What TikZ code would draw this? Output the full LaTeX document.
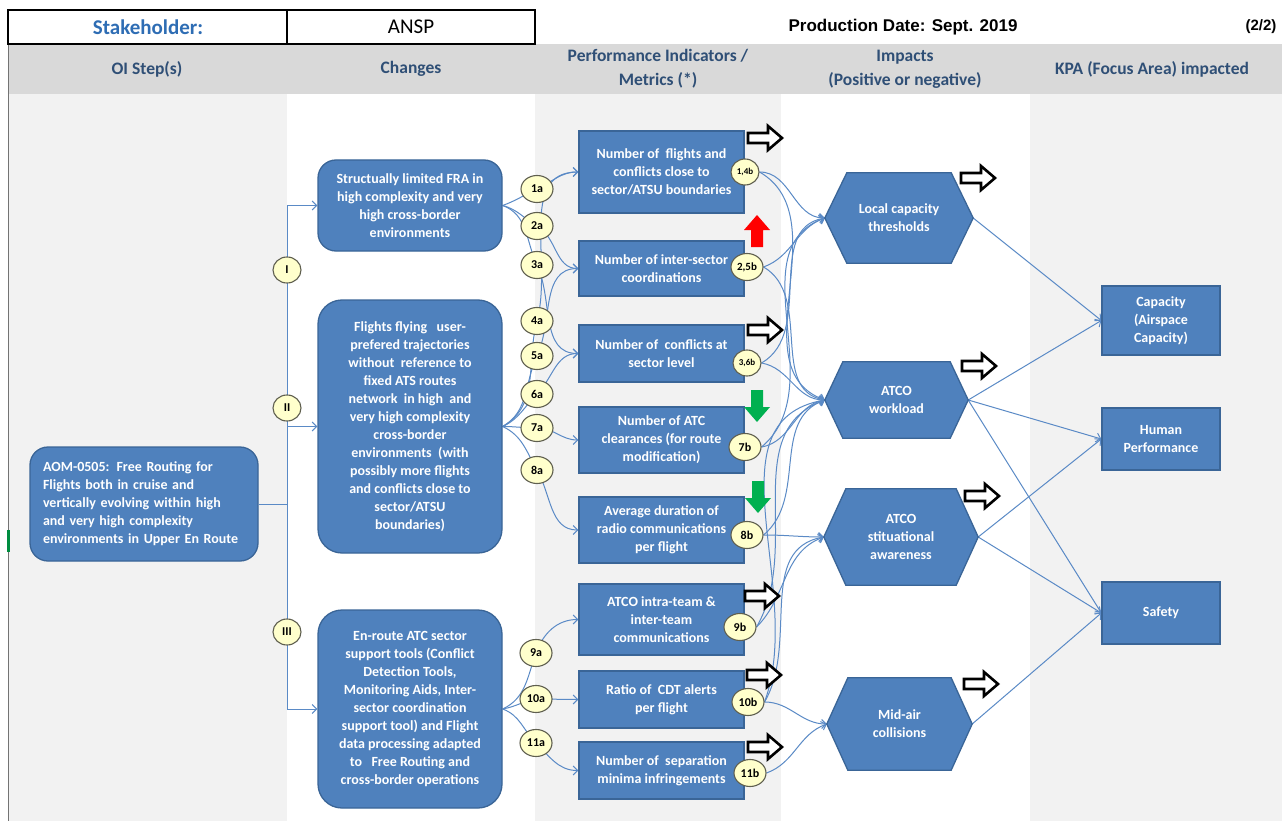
\documentclass[tikz,border=0pt]{standalone}
\usepackage{fontspec}
\setmainfont{Carlito}
\newfontfamily\arialfont{Liberation Sans}
\usetikzlibrary{shapes.geometric,arrows.meta}
\pgfdeclarelayer{bg}\pgfdeclarelayer{lines}\pgfdeclarelayer{hexl}
\pgfsetlayers{bg,lines,hexl,main}
\definecolor{boxblue}{HTML}{4F81BD}
\definecolor{boxedge}{HTML}{3A6597}
\definecolor{linkblue}{HTML}{5A8AC6}
\definecolor{badgefill}{HTML}{FFFFCC}
\definecolor{badgeedge}{HTML}{5F5F4F}
\definecolor{bandgray}{HTML}{D9D9D9}
\definecolor{colgray}{HTML}{F2F2F2}
\definecolor{headtext}{HTML}{2F4F76}
\definecolor{stakeblue}{HTML}{2E6DB4}
\definecolor{arrred}{HTML}{FF0000}
\definecolor{arrgreen}{HTML}{00B050}
\newcommand\drawhexagon[2]{%
  \draw[hexfill] (#1.west) -- ([xshift=#2pt]#1.north west) -- ([xshift=-#2pt]#1.north east) -- (#1.east) -- ([xshift=-#2pt]#1.south east) -- ([xshift=#2pt]#1.south west) -- cycle;}
\tikzset{
  boxtext/.style={font=\bfseries\fontsize{14}{18}\selectfont, text=white, align=center},
  chgbox/.style={boxtext, draw=boxedge, line width=1.3pt, fill=boxblue, rounded corners=18pt, minimum width=184pt, inner sep=0pt},
  metbox/.style={boxtext, draw=boxedge, line width=1.3pt, fill=boxblue, minimum width=165pt, inner sep=0pt},
  kpabox/.style={boxtext, draw=boxedge, line width=1.3pt, fill=boxblue, minimum width=118pt, inner sep=0pt},
  hexnode/.style={boxtext, inner sep=0pt},
  hexfill/.style={draw=boxedge, line width=1.3pt, fill=boxblue},
  badge/.style={ellipse, draw=badgeedge, line width=1.1pt, fill=badgefill, minimum width=32pt, minimum height=27pt, inner sep=0pt, font=\bfseries\fontsize{12}{12}\selectfont},
  link/.style={draw=linkblue, line width=1pt},
  linkarr/.style={link, -{Straight Barb[length=4.5pt,width=9pt]}},
  headlbl/.style={font=\bfseries\fontsize{17.5}{24}\selectfont, text=headtext, align=center},
  toplbl/.style={font=\arialfont\bfseries\fontsize{17}{17}\selectfont},
  hollowarr/.pic={\draw[line width=2.6pt, fill=white, line join=miter] (-17,-5) -- (3,-5) -- (3,-12) -- (17,0) -- (3,12) -- (3,5) -- (-17,5) -- cycle;},
  redup/.pic={\fill[arrred] (-6,-16) -- (6,-16) -- (6,1) -- (13,1) -- (0,16) -- (-13,1) -- (-6,1) -- cycle;},
  greendown/.pic={\fill[arrgreen] (-6,16) -- (6,16) -- (6,-1) -- (13,-1) -- (0,-16) -- (-13,-1) -- (-6,-1) -- cycle;}
}
\begin{document}
\begin{tikzpicture}[x=1pt,y=1pt]
\useasboundingbox (0,0) rectangle (1282,-821);
\begin{pgfonlayer}{bg}
\fill[white] (0,0) rectangle (1282,-821);
\fill[colgray] (8,-94) rectangle (287,-821);
\fill[colgray] (535,-94) rectangle (781,-821);
\fill[colgray] (1030,-94) rectangle (1282,-821);
\fill[bandgray] (8,-44) rectangle (1282,-94);
\draw[black!55, line width=0.8pt] (8,-44) -- (8,-821);
\fill[arrgreen!80!black] (7,-530) rectangle (9.5,-552);
\draw[black, line width=1.4pt] (8,-10) rectangle (535,-44);
\draw[black, line width=1.4pt] (287,-10) -- (287,-44);
\end{pgfonlayer}

% header
\node[font=\bfseries\fontsize{21}{21}\selectfont, text=stakeblue] (stk) at (148,-27) {Stakeholder:};
\node[font=\fontsize{21}{21}\selectfont] (ansp) at (411,-27) {ANSP};
\node[toplbl] (pdate) at (903,-27) {Production Date: Sept. 2019};
\node[toplbl, font=\arialfont\bfseries\fontsize{15}{15}\selectfont] (page) at (1261,-27) {(2/2)};
\node[headlbl] (hoi) at (147,-69) {OI Step(s)};
\node[headlbl] (hch) at (411,-69) {Changes};
\node[headlbl] (hpi) at (658,-69) {Performance Indicators /\\Metrics (*)};
\node[headlbl] (him) at (905,-69) {Impacts\\(Positive or negative)};
\node[headlbl] (hkpa) at (1152,-69) {KPA (Focus Area) impacted};

% OI step
\node[chgbox, align=left, text width=202pt, inner xsep=13pt, minimum width=228pt, minimum height=114pt] (aom) at (144,-504)
  {AOM-0505: Free Routing for\\Flights both in cruise and\\vertically evolving within high\\and very high complexity\\environments in Upper En Route};
\coordinate (jn) at (287,-504);

% changes
\node[chgbox, minimum height=91pt] (s1) at (410,-205.5) {Structually limited FRA in\\high complexity and very\\high cross-border\\environments};
\node[chgbox, minimum height=253pt, rounded corners=24pt] (s2) at (410,-426.5) {Flights flying~~ user-\\prefered trajectories\\without~ reference to\\fixed ATS routes\\network~ in high~ and\\very high complexity\\cross-border\\environments~ (with\\possibly more flights\\and conflicts close to\\sector/ATSU\\boundaries)};
\node[chgbox, minimum height=198pt, rounded corners=24pt] (s3) at (410,-709) {En-route ATC sector\\support tools (Conflict\\Detection Tools,\\Monitoring Aids, Inter-\\sector coordination\\support tool) and Flight\\data processing adapted\\to~~ Free Routing and\\cross-border operations};

% metrics
\node[metbox, minimum height=82pt] (m1) at (661.5,-172) {Number of~ flights and\\conflicts close to\\sector/ATSU boundaries};
\node[metbox, minimum height=55pt] (m2) at (661.5,-268.5) {Number of inter-sector\\coordinations};
\node[metbox, minimum height=57pt] (m3) at (661.5,-353.5) {Number of~ conflicts at\\sector level};
\node[metbox, minimum height=66pt] (m4) at (661.5,-440) {Number of ATC\\clearances (for route\\modification)};
\node[metbox, minimum height=66pt] (m5) at (661.5,-530) {Average duration of\\radio communications\\per flight};
\node[metbox, minimum height=71pt] (m6) at (661.5,-619.5) {ATCO intra-team \&\\inter-team\\communications};
\node[metbox, minimum height=57pt] (m7) at (661.5,-699.5) {Ratio of~ CDT alerts\\per flight};
\node[metbox, minimum height=57pt] (m8) at (661.5,-770.5) {Number of~ separation\\minima infringements};

% impacts
\node[hexnode, minimum width=148pt, minimum height=90pt] (h1) at (899,-218) {Local capacity\\thresholds};
\node[hexnode, minimum width=143pt, minimum height=76pt] (h2) at (896.5,-400) {ATCO\\workload};
\node[hexnode, minimum width=154pt, minimum height=96pt] (h3) at (901,-537) {ATCO\\stituational\\awareness};
\node[hexnode, minimum width=145pt, minimum height=92pt] (h4) at (899.5,-724) {Mid-air\\collisions};
\begin{pgfonlayer}{hexl}
\drawhexagon{h1}{22}
\drawhexagon{h2}{18}
\drawhexagon{h3}{22}
\drawhexagon{h4}{21}
\end{pgfonlayer}

% KPA
\node[kpabox, minimum height=69pt] (k1) at (1161,-320.5) {Capacity\\(Airspace\\Capacity)};
\node[kpabox, minimum height=62pt] (k2) at (1161,-439) {Human\\Performance};
\node[kpabox, minimum height=62pt] (k3) at (1161,-613) {Safety};

% badges
\node[badge, minimum width=28pt, minimum height=26pt] (r1) at (287,-270) {I};
\node[badge, minimum width=28pt, minimum height=26pt] (r2) at (287,-408) {II};
\node[badge, minimum width=28pt, minimum height=26pt] (r3) at (287,-632) {III};
\node[badge] (a1) at (537,-189) {1a};
\node[badge] (a2) at (537,-226) {2a};
\node[badge] (a3) at (537,-265) {3a};
\node[badge] (a4) at (537,-321) {4a};
\node[badge] (a5) at (537,-356) {5a};
\node[badge] (a6) at (537,-394) {6a};
\node[badge] (a7) at (537,-428) {7a};
\node[badge] (a8) at (537,-470) {8a};
\node[badge] (a9) at (536,-653) {9a};
\node[badge] (a10) at (536,-699) {10a};
\node[badge] (a11) at (536,-743) {11a};
\node[badge, minimum width=28pt, minimum height=26pt, font=\bfseries\fontsize{9}{9}\selectfont] (b14) at (745,-172) {1,4b};
\node[badge, font=\bfseries\fontsize{11}{11}\selectfont] (b25) at (747,-267) {2,5b};
\node[badge, minimum width=28pt, minimum height=26pt, font=\bfseries\fontsize{9}{9}\selectfont] (b36) at (747,-363) {3,6b};
\node[badge] (b7) at (745,-447) {7b};
\node[badge] (b8) at (747,-535) {8b};
\node[badge] (b9) at (740,-627) {9b};
\node[badge] (b10) at (748,-702) {10b};
\node[badge] (b11) at (750,-773) {11b};

% indicator arrows
\pic at (765,-138) {hollowarr};
\pic at (757,-231) {redup};
\pic at (765,-330) {hollowarr};
\pic at (757,-406) {greendown};
\pic at (758,-497) {greendown};
\pic at (762,-596) {hollowarr};
\pic at (764,-675) {hollowarr};
\pic at (765,-747) {hollowarr};
\pic at (978,-178) {hollowarr};
\pic at (979,-366) {hollowarr};
\pic at (982,-496) {hollowarr};
\pic at (981,-684) {hollowarr};

% connectors
\begin{pgfonlayer}{lines}
\draw[link] (aom.east) -- (jn);
\draw[linkarr] (jn) |- (s1.west);
\draw[linkarr] (jn) |- (s2.west);
\draw[linkarr] (jn) |- (s3.west);

\draw[linkarr] (s1.east) to[out=20,in=205] (a1.center) to[out=25,in=180] (m1.west);
\draw[linkarr] (s1.east) to[out=-15,in=150] (a2.center) to[out=-30,in=180] (m2.west);
\draw[linkarr] (s1.east) to[out=-20,in=115] (a3.center) to[out=-65,in=180] (m3.west);

\draw[linkarr] (s2.east) to[out=30,in=-105] (a4.center) to[out=75,in=180] (m1.west);
\draw[linkarr] (s2.east) to[out=30,in=-115] (a5.center) to[out=65,in=180] (m2.west);
\draw[linkarr] (s2.east) to[out=25,in=-135] (a6.center) to[out=45,in=180] (m3.west);
\draw[linkarr] (s2.east) to[out=0,in=180] (a7.center) to[out=0,in=180] (m4.west);
\draw[linkarr] (s2.east) to[out=-25,in=120] (a8.center) to[out=-60,in=180] (m5.west);

\draw[linkarr] (s3.east) to[out=25,in=-110] (a9.center) to[out=70,in=180] (m6.west);
\draw[linkarr] (s3.east) to[out=10,in=190] (a10.center) to[out=0,in=180] (m7.west);
\draw[linkarr] (s3.east) to[out=-20,in=135] (a11.center) to[out=-45,in=180] (m8.west);

\draw[linkarr] (b14.east) to[out=0,in=180] (h1.west);
\draw[linkarr] (b14.east) to[out=-30,in=160] (h2.west);
\draw[linkarr] (b25.east) to[out=20,in=200] (h1.west);
\draw[linkarr] (b25.east) to[out=-30,in=170] (h2.west);
\draw[linkarr] (b36.east) to[out=30,in=190] (h1.west);
\draw[linkarr] (b36.east) to[out=-10,in=180] (h2.west);
\draw[linkarr] (b7.east) to[out=40,in=200] (h1.west);
\draw[linkarr] (b7.east) to[out=10,in=190] (h2.west);
\draw[linkarr] (b8.east) to[out=40,in=200] (h2.west);
\draw[linkarr] (b8.east) to[out=0,in=180] (h3.west);
\draw[linkarr] (b9.east) to[out=60,in=200] (h2.west);
\draw[linkarr] (b9.east) to[out=45,in=200] (h3.west);
\draw[linkarr] (b10.east) to[out=70,in=190] (h2.west);
\draw[linkarr] (b10.east) to[out=60,in=190] (h3.west);
\draw[linkarr] (b10.east) to[out=0,in=180] (h4.west);
\draw[linkarr] (b11.east) to[out=20,in=200] (h4.west);

\draw[linkarr] (h1.east) -- (k1.west);
\draw[linkarr] (h2.east) -- (k1.west);
\draw[linkarr] (h2.east) -- (k2.west);
\draw[linkarr] (h2.east) -- (k3.west);
\draw[linkarr] (h3.east) -- (k2.west);
\draw[linkarr] (h3.east) -- (k3.west);
\draw[linkarr] (h4.east) -- (k3.west);
\end{pgfonlayer}
\end{tikzpicture}
\end{document}
